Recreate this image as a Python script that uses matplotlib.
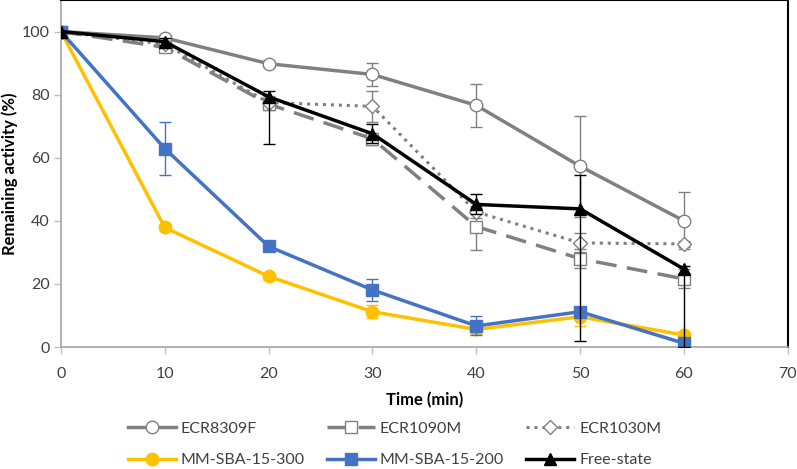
import numpy as np
import matplotlib
matplotlib.use('Agg')
import matplotlib.pyplot as plt

plt.rcParams['font.family'] = ['Lato', 'DejaVu Sans']

# Данные
time_min = [0, 10, 20, 30, 40, 50, 60]

ecr8309f = [100, 98, 89.8, 86.4, 76.6, 57.3, 40.0]
ecr8309f_err = [0, 1, 1, 3.5, 6.7, 16, 9]

ecr1090m = [100, 95, 77, 66, 38.2, 28, 21.6]
ecr1090m_err = [0, 1, 2, 2, 7.4, 3, 3]

ecr1030m = [100, 96, 77.5, 76.3, 42.8, 33, 32.7]
ecr1030m_err = [0, 1, 2, 5, 2, 3, 1]

mm300 = [100, 37.9, 22.4, 11.2, 5.6, 9.6, 3.8]
mm300_err = [0, 1, 1, 2, 1.5, 3, 1]

mm200 = [100, 62.9, 31.9, 18.1, 6.7, 11.2, 1.2]
mm200_err = [0, 8.5, 1, 3.5, 3, 1, 0.5]

free = [100, 96.8, 79.3, 67.6, 45.2, 43.8, 24.7]
free_err_low = [0, 1, 15, 3, 3, 42, 24.7]
free_err_high = [0, 1, 2, 3, 3.2, 10.6, 1]

fig = plt.figure(figsize=(7.97, 4.69), dpi=100)
ax = fig.add_axes([0.0765, 0.26, 0.912, 0.74])

gray = '#808080'
err_kw = dict(capsize=4, elinewidth=1, capthick=1)

ax.errorbar(time_min, ecr8309f, yerr=ecr8309f_err, color=gray, lw=2.5, ls='-',
            marker='o', ms=9, mfc='white', mec=gray, mew=1, ecolor=gray,
            label='ECR8309F', zorder=3, **err_kw)
ax.errorbar(time_min, ecr1090m, yerr=ecr1090m_err, color=gray, lw=2.5, ls=(0, (6, 3)),
            marker='s', ms=8, mfc='white', mec=gray, mew=1, ecolor=gray,
            label='ECR1090M', zorder=3, **err_kw)
ax.errorbar(time_min, ecr1030m, yerr=ecr1030m_err, color=gray, lw=2.2, ls=(0, (1, 1.6)),
            marker='D', ms=7, mfc='white', mec=gray, mew=1, ecolor=gray,
            label='ECR1030M', zorder=3, **err_kw)
ax.errorbar(time_min, mm300, yerr=mm300_err, color='#FFC000', lw=2.5,
            marker='o', ms=9, ecolor='#FFC000',
            label='MM-SBA-15-300', zorder=4, **err_kw)
ax.errorbar(time_min, mm200, yerr=mm200_err, color='#4472C4', lw=2.5,
            marker='s', ms=9, ecolor='#4472C4',
            label='MM-SBA-15-200', zorder=5, **err_kw)
ax.errorbar(time_min, free, yerr=[free_err_low, free_err_high], color='black', lw=2.5,
            marker='^', ms=9, ecolor='black',
            label='Free-state', zorder=6, **err_kw)

ax.set_xlim(0, 70)
ax.set_ylim(0, 110)
ax.set_xticks(range(0, 71, 10))
ax.set_yticks(range(0, 101, 20))
ax.tick_params(axis='both', colors='#bfbfbf', length=5, width=1,
               labelcolor='#404040', labelsize=11.5)
ax.tick_params(axis='x', pad=9)
ax.tick_params(axis='y', pad=3)

for side in ['left', 'bottom']:
    ax.spines[side].set_color('#a6a6a6')
    ax.spines[side].set_linewidth(1.2)
for side in ['top', 'right']:
    ax.spines[side].set_color('black')
    ax.spines[side].set_linewidth(1.5)

ax.set_xlabel('Time (min)', fontsize=12, fontweight='bold', labelpad=8)
ax.set_ylabel('Remaining activity (%)', fontsize=12, fontweight='bold', labelpad=3)

handles, labels = ax.get_legend_handles_labels()
handles = [h[0] for h in handles]
# legend fills column-wise, so reorder to get row-wise layout
order = [0, 3, 1, 4, 2, 5]
fig.legend([handles[i] for i in order], [labels[i] for i in order],
           ncol=3, loc='lower center', bbox_to_anchor=(0.495, -0.027),
           frameon=False, fontsize=11.5, handlelength=3.0, handletextpad=0.3,
           columnspacing=1.4, labelspacing=1.1, labelcolor='#404040')

fig.savefig('out.png', dpi=100)
